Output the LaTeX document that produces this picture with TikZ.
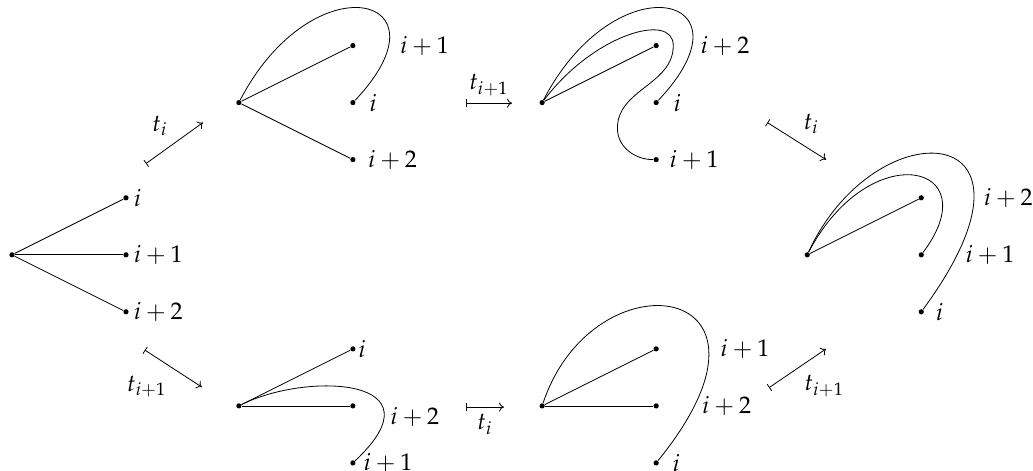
\documentclass[tikz,border=0pt]{standalone}
\usepackage{mathpazo}
\usetikzlibrary{positioning,arrows.meta}

\begin{document}
\begin{tikzpicture}[
  font=\large,
  dot/.style={circle,fill,inner sep=0pt,minimum size=2.6pt},
  lbl/.style={anchor=west,inner sep=0pt},
  mapsto/.style={{Bar[width=4pt]}-{To[length=2.5pt,width=4.5pt]}},
  >=Stealth
]
\useasboundingbox (-0.21,-3.79) rectangle (17.91,4.47);

% centre and three leaves of every fan
\foreach \g/\x/\y in {l/0/0, a/3.98/2.67, b/9.30/2.67, c/13.95/0, d/3.98/-2.65, e/9.30/-2.65}{
  \node[dot] (\g0) at (\x,\y) {};
  \node[dot] (\g1) at (\x+2,\y+1) {};
  \node[dot] (\g2) at (\x+2,\y) {};
  \node[dot] (\g3) at (\x+2,\y-1) {};
}

% straight strands
\foreach \s/\d in {l0/l1,l0/l2,l0/l3,a0/a1,a0/a3,b0/b1,c0/c1,d0/d1,d0/d2,e0/e1,e0/e2}
  \draw (\s) -- (\d);

% curved strands, control points local to each fan
\begin{scope}[shift={(a0)}]
  \draw (a0) .. controls (1.3,2.5) and (3.8,1.9) .. (a2);
\end{scope}
\begin{scope}[shift={(b0)}]
  \draw (b0) .. controls (1.3,2.5) and (3.8,1.9) .. (b2);
  \draw (b0) .. controls (0.9,1.2) and (2.3,1.6) .. (2.3,1.0)
        to[out=-90,in=90] (1.32,-0.45) to[out=-90,in=180] (b3);
\end{scope}
\begin{scope}[shift={(c0)}]
  \draw (c0) .. controls (1.1,2.1) and (3.2,1.6) .. (c2);
  \draw (c0) .. controls (1.2,2.6) and (4.5,2.4) .. (c3);
\end{scope}
\begin{scope}[shift={(d0)}]
  \draw (d0) .. controls (1.2,0.6) and (3.6,0.5) .. (d3);
\end{scope}
\begin{scope}[shift={(e0)}]
  \draw (e0) .. controls (0.9,2.7) and (4.6,2.2) .. (e3);
\end{scope}

% leaf labels
\node[lbl,right=0.08cm of l1] {$i$};
\node[lbl,right=0.08cm of l2] {$i+1$};
\node[lbl,right=0.08cm of l3] {$i+2$};
\node[lbl,right=0.77cm of a1] {$i+1$};
\node[lbl,right=0.23cm of a2] {$i$};
\node[lbl,right=0.21cm of a3] {$i+2$};
\node[lbl,right=0.72cm of b1] {$i+2$};
\node[lbl,right=0.25cm of b2] {$i$};
\node[lbl,right=0.18cm of b3] {$i+1$};
\node[lbl,right=1.04cm of c1] {$i+2$};
\node[lbl,right=0.72cm of c2] {$i+1$};
\node[lbl,right=0.20cm of c3] {$i$};
\node[lbl,right=0.04cm of d1] {$i$};
\node[lbl,right=0.60cm of d2,yshift=-0.19cm] {$i+2$};
\node[lbl,right=0.13cm of d3] {$i+1$};
\node[lbl,right=1.07cm of e1] {$i+1$};
\node[lbl,right=0.75cm of e2] {$i+2$};
\node[lbl,right=0.23cm of e3] {$i$};

% moves between fans
\coordinate (m1s) at (2.35,1.60);   \coordinate (m1e) at (3.35,2.32);
\coordinate (m2s) at (7.96,2.66);   \coordinate (m2e) at (8.77,2.66);
\coordinate (m3s) at (13.25,2.32);  \coordinate (m3e) at (14.28,1.67);
\coordinate (m4s) at (2.33,-1.67);  \coordinate (m4e) at (3.33,-2.32);
\coordinate (m5s) at (7.96,-2.67);  \coordinate (m5e) at (8.63,-2.67);
\coordinate (m6s) at (13.28,-2.33); \coordinate (m6e) at (14.28,-1.65);

\draw[mapsto] (m1s) -- node[above left]  {$t_i$}     (m1e);
\draw[mapsto] (m2s) -- node[above]       {$t_{i+1}$} (m2e);
\draw[mapsto] (m3s) -- node[above right] {$t_i$}     (m3e);
\draw[mapsto] (m4s) -- node[below left]  {$t_{i+1}$} (m4e);
\draw[mapsto] (m5s) -- node[below]       {$t_i$}     (m5e);
\draw[mapsto] (m6s) -- node[below right] {$t_{i+1}$} (m6e);
\end{tikzpicture}
\end{document}
